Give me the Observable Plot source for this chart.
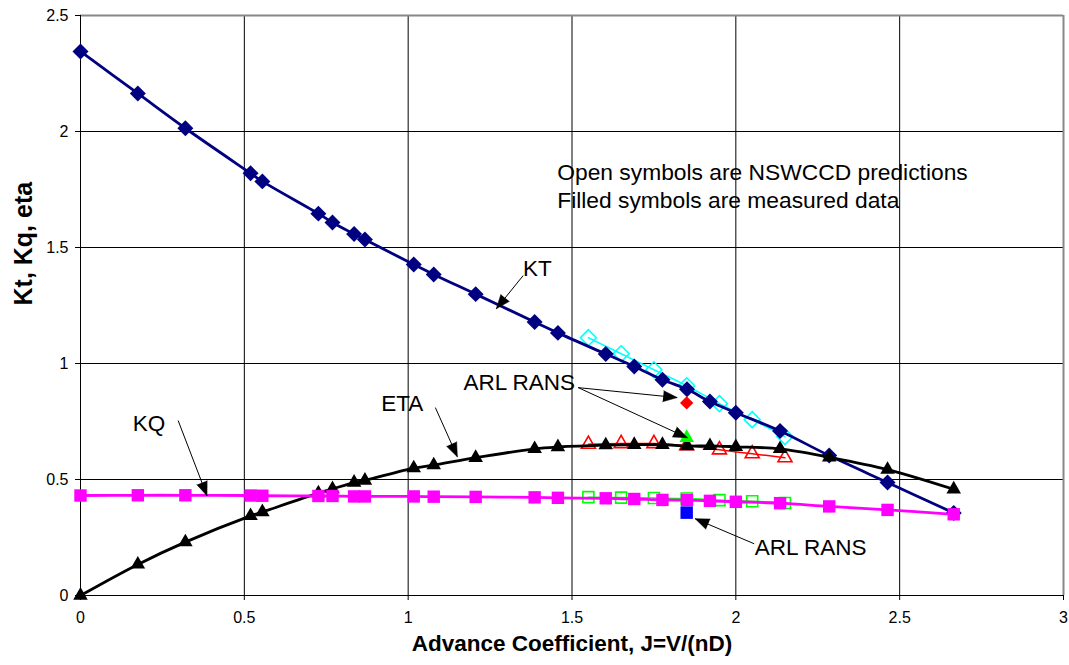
<!DOCTYPE html>
<html>
<head>
<meta charset="utf-8">
<script src="https://cdn.jsdelivr.net/npm/d3@7"></script>
<script src="https://cdn.jsdelivr.net/npm/@observablehq/plot@0.6"></script>
<style>
  html, body { margin: 0; padding: 0; background: #fff; }
</style>
</head>
<body>
<div id="chart"></div>
<script>
// Measured data (filled symbols)
const J   = [0, 0.175, 0.32, 0.519, 0.555, 0.726, 0.769, 0.835, 0.868, 1.017, 1.078, 1.206, 1.386, 1.457, 1.603, 1.69, 1.776, 1.851, 1.921, 2.0, 2.135, 2.285, 2.463, 2.665];
const KT  = [2.345, 2.164, 2.014, 1.820, 1.785, 1.646, 1.608, 1.558, 1.534, 1.427, 1.384, 1.299, 1.179, 1.132, 1.041, 0.987, 0.930, 0.889, 0.836, 0.788, 0.709, 0.603, 0.487, 0.356];
const ETA = [0, 0.134, 0.230, 0.343, 0.360, 0.441, 0.459, 0.487, 0.496, 0.549, 0.562, 0.594, 0.632, 0.640, 0.648, 0.650, 0.650, 0.644, 0.645, 0.641, 0.632, 0.596, 0.543, 0.458];
const KQ  = [0.431, 0.432, 0.432, 0.431, 0.430, 0.429, 0.429, 0.427, 0.427, 0.427, 0.426, 0.425, 0.423, 0.421, 0.419, 0.416, 0.412, 0.411, 0.408, 0.404, 0.398, 0.384, 0.369, 0.350];

// NSWCCD predictions (open symbols)
const Jpred   = [1.55, 1.65, 1.75, 1.85, 1.95, 2.05, 2.15];
const KTpred  = [1.111, 1.042, 0.973, 0.904, 0.827, 0.758, 0.685];
const ETApred = [0.652, 0.655, 0.655, 0.646, 0.628, 0.611, 0.594];
const KQpred  = [0.424, 0.422, 0.420, 0.418, 0.411, 0.406, 0.399];

// ARL RANS
const arlJ = [1.85];
const arlKT = [0.830];
const arlETA = [0.680];
const arlKQ = [0.357];

// Axis ticks
const xTicks = [0, 0.5, 1, 1.5, 2, 2.5, 3];
const yTicks = [0, 0.5, 1, 1.5, 2, 2.5];

// Annotations (data units)
const labelText = ["KT", "ARL RANS", "ETA", "KQ", "ARL RANS"];
const labelX    = [1.394, 1.339, 0.982, 0.209, 2.228];
const labelY    = [1.409, 0.918, 0.827, 0.741, 0.206];
const arrowX1 = [1.351, 1.519, 1.519, 1.083, 0.298, 2.056];
const arrowY1 = [1.379, 0.896, 0.896, 0.810, 0.754, 0.223];
const arrowX2 = [1.269, 1.821, 1.852, 1.150, 0.386, 1.876];
const arrowY2 = [1.236, 0.853, 0.680, 0.598, 0.430, 0.331];
const noteLines = ["Open symbols are NSWCCD predictions", "Filled symbols are measured data"];
const noteX = 1.455;
const noteY = [1.823, 1.702];

// Layout
const W = 1069, H = 665, mL = 80, mR = 6, mT = 15, mB = 70;
const sx = (W - mL - mR) / 3, sy = (H - mT - mB) / 2.5;

const meas = J.map((j, i) => ({J: j, KT: KT[i], ETA: ETA[i], KQ: KQ[i]}));
const pred = Jpred.map((j, i) => ({J: j, KT: KTpred[i], ETA: ETApred[i], KQ: KQpred[i]}));
const arl = arlJ.map((j, i) => ({J: j, KT: arlKT[i], ETA: arlETA[i], KQ: arlKQ[i]}));
const labels = labelText.map((t, i) => ({text: t, x: labelX[i], y: labelY[i]}));
const arrows = arrowX1.map((x1, i) => {
  const x2 = arrowX2[i], y1 = arrowY1[i], y2 = arrowY2[i];
  const dx = (x2 - x1) * sx, dy = -(y2 - y1) * sy;
  return {x1, y1, x2, y2, angle: Math.atan2(dx, -dy) * 180 / Math.PI};
});
const notes = noteLines.map((t, i) => ({text: t, x: noteX, y: noteY[i]}));

const chart = Plot.plot({
  width: W, height: H,
  marginLeft: mL, marginRight: mR, marginTop: mT, marginBottom: mB,
  style: {fontFamily: "Arial, 'Liberation Sans', sans-serif", fontSize: "16px", background: "#fff", color: "#000"},
  x: {domain: [0, 3]},
  y: {domain: [0, 2.5]},
  marks: [
    Plot.gridX(xTicks, {stroke: "#000", strokeOpacity: 1}),
    Plot.gridY(yTicks, {stroke: "#000", strokeOpacity: 1}),
    Plot.ruleX([3], {stroke: "#888", strokeWidth: 2}),
    Plot.ruleY([2.5], {stroke: "#888", strokeWidth: 2}),
    Plot.ruleX([0], {stroke: "#000"}),
    Plot.ruleY([0], {stroke: "#000"}),
    Plot.axisX({ticks: xTicks, tickFormat: d => String(d), tickSize: 5, tickPadding: 11, label: null, fontSize: 16}),
    Plot.axisY({ticks: yTicks, tickFormat: d => String(d), tickSize: 5, tickPadding: 7, label: null, fontSize: 16}),

    // predictions (open)
    Plot.line(pred, {x: "J", y: "KT", stroke: "#00FFFF", strokeWidth: 1.5, curve: "catmull-rom"}),
    Plot.dot(pred, {x: "J", y: "KT", symbol: "diamond2", r: 7.2, stroke: "#00FFFF", strokeWidth: 1.6, fill: "none"}),
    Plot.line(pred, {x: "J", y: "ETA", stroke: "#FF0000", strokeWidth: 1.5, curve: "catmull-rom"}),
    Plot.dot(pred, {x: "J", y: "ETA", symbol: "triangle", r: 5.2, stroke: "#FF0000", strokeWidth: 1.6, fill: "none"}),
    Plot.line(pred, {x: "J", y: "KQ", stroke: "#00FF00", strokeWidth: 1.5, curve: "catmull-rom"}),
    Plot.dot(pred, {x: "J", y: "KQ", symbol: "square", r: 6.2, stroke: "#00FF00", strokeWidth: 1.6, fill: "none"}),

    // measured (filled)
    Plot.line(meas, {x: "J", y: "KT", stroke: "#000080", strokeWidth: 2.8, curve: "catmull-rom"}),
    Plot.dot(meas, {x: "J", y: "KT", symbol: "diamond2", r: 7.2, fill: "#000080"}),
    Plot.line(meas, {x: "J", y: "ETA", stroke: "#000", strokeWidth: 2.8, curve: "catmull-rom"}),
    Plot.dot(meas, {x: "J", y: "ETA", symbol: "triangle", r: 5.4, fill: "#000"}),
    Plot.line(meas, {x: "J", y: "KQ", stroke: "#FF00FF", strokeWidth: 2.8, curve: "catmull-rom"}),
    Plot.dot(meas, {x: "J", y: "KQ", symbol: "square", r: 7, fill: "#FF00FF"}),

    // ARL RANS
    Plot.dot(arl, {x: "J", y: "KT", symbol: "diamond2", r: 6, fill: "#FF0000"}),
    Plot.dot(arl, {x: "J", y: "ETA", symbol: "triangle", r: 5.4, fill: "#00FF00"}),
    Plot.dot(arl, {x: "J", y: "KQ", symbol: "square", r: 7, fill: "#0000FF"}),

    // annotations
    Plot.link(arrows, {x1: "x1", y1: "y1", x2: "x2", y2: "y2", stroke: "#000", strokeWidth: 1}),
    Plot.vector(arrows, {x: "x2", y: "y2", rotate: "angle", length: 14, r: 5.5, shape: "spike", anchor: "end", fill: "#000", stroke: "#000", strokeWidth: 0.5}),
    Plot.text(labels, {x: "x", y: "y", text: "text", fontSize: 22.5, textAnchor: "middle", fill: "#000"}),
    Plot.text(notes, {x: "x", y: "y", text: "text", fontSize: 22.8, textAnchor: "start", fill: "#000"}),

    // axis titles
    Plot.text(["Kt, Kq, eta"], {frameAnchor: "left", dx: -57, rotate: -90, text: d => d, fontWeight: "bold", fontSize: 25, fill: "#000"}),
    Plot.text(["Advance Coefficient, J=V/(nD)"], {frameAnchor: "bottom", dy: 55, text: d => d, fontWeight: "bold", fontSize: 22.5, fill: "#000"})
  ]
});
document.getElementById("chart").appendChild(chart);
</script>
</body>
</html>
